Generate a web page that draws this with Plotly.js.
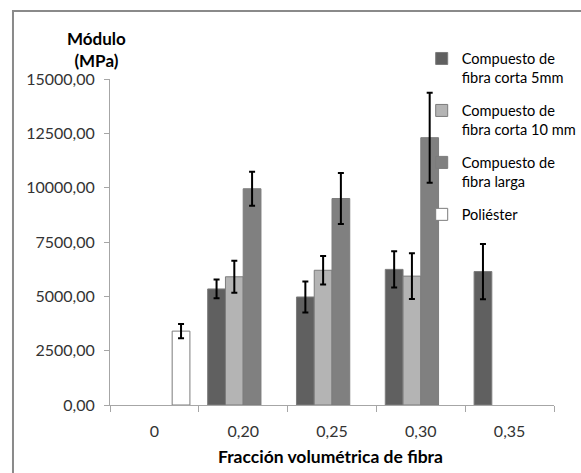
<!DOCTYPE html>
<html>
<head>
<meta charset="utf-8">
<script src="https://cdn.plot.ly/plotly-3.0.1.min.js"></script>
<style>html,body{margin:0;padding:0;background:#fff;}</style>
</head>
<body>
<div id="chart" style="width:581px;height:473px;"></div>
<script>
const categories = ['0', '0,20', '0,25', '0,30', '0,35'];
const seriesNames = ['Compuesto de<br>fibra corta 5mm', 'Compuesto de<br>fibra corta 10 mm', 'Compuesto de<br>fibra larga', 'Poliéster'];
const corta5 = [null, 5340, 4970, 6240, 6140];
const corta5Err = [null, 430, 710, 830, 1270];
const corta10 = [null, 5900, 6200, 5930, null];
const corta10Err = [null, 740, 660, 1050, null];
const larga = [null, 9950, 9500, 12300, null];
const largaErr = [null, 780, 1170, 2070, null];
const poliester = [3400, null, null, null, null];
const poliesterErr = [330, null, null, null, null];
const yTickValues = [0, 2500, 5000, 7500, 10000, 12500, 15000];

const fills = ['#606060', '#b4b4b4', '#808080', '#ffffff'];
const values = [corta5, corta10, larga, poliester];
const errs = [corta5Err, corta10Err, largaErr, poliesterErr];

const traces = values.map((v, i) => ({
  type: 'bar',
  name: seriesNames[i],
  x: categories,
  y: v,
  legendgroup: 'g' + i,
  marker: {color: fills[i], line: {color: '#7c7c7c', width: 1}},
  error_y: {type: 'data', array: errs[i], visible: true, color: '#000000', thickness: 2, width: 3},
  hoverinfo: 'skip'
}));

const font = 'Lato, "Open Sans", sans-serif';
const layout = {
  width: 581, height: 473,
  margin: {l: 110, r: 27, t: 79, b: 68, autoexpand: false},
  paper_bgcolor: '#ffffff', plot_bgcolor: 'rgba(0,0,0,0)',
  separators: ',.',
  barmode: 'group', bargap: 0.2, bargroupgap: 0,
  showlegend: true,
  legend: {
    x: 0.702, xanchor: 'left', y: 1.112, yanchor: 'top',
    bgcolor: 'rgba(0,0,0,0)', font: {family: font, size: 14.6, color: '#000'},
    valign: 'top', tracegroupgap: 11, traceorder: 'grouped'
  },
  xaxis: {
    type: 'category', categoryorder: 'array', categoryarray: categories,
    tickson: 'boundaries', ticks: 'outside', ticklen: 6, tickcolor: '#a6a6a6',
    ticklabelstandoff: 12,
    showline: true, linecolor: '#a6a6a6', linewidth: 1, showgrid: false,
    tickfont: {family: font, size: 16, color: '#333333'}, fixedrange: true
  },
  yaxis: {
    range: [0, 15000], tickvals: yTickValues, tickformat: '.2f',
    ticks: 'outside', ticklen: 5, tickcolor: '#a6a6a6', ticklabelstandoff: 6,
    showline: true, linecolor: '#a6a6a6', linewidth: 1, showgrid: false, zeroline: false,
    tickfont: {family: font, size: 16, color: '#333333'}, fixedrange: true
  },
  annotations: [
    {text: '<b>Módulo</b><br><b>(MPa)</b>', xref: 'paper', yref: 'paper', x: -0.03, y: 1.089,
     xanchor: 'center', yanchor: 'middle', showarrow: false, align: 'center',
     font: {family: font, size: 17, color: '#000'}},
    {text: '<b>Fracción volumétrica de fibra</b>', xref: 'paper', yref: 'paper', x: 0.497, y: -0.157,
     xanchor: 'center', yanchor: 'middle', showarrow: false,
     font: {family: font, size: 17.5, color: '#000'}}
  ],
  shapes: [
    {type: 'rect', xref: 'paper', yref: 'paper', x0: -0.2185, x1: 1.15, y0: -0.3, y1: 1.2086,
     line: {color: '#8a8a8a', width: 2}, fillcolor: 'rgba(0,0,0,0)', layer: 'below'}
  ]
};

Plotly.newPlot('chart', traces, layout, {displayModeBar: false, staticPlot: true});
</script>
</body>
</html>
